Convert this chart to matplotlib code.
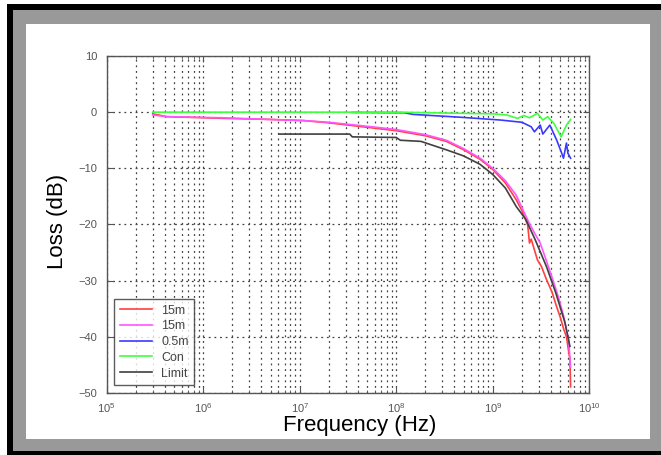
import matplotlib
matplotlib.use("Agg")
import matplotlib.pyplot as plt
from matplotlib.patches import Rectangle
from matplotlib.ticker import LogLocator, FixedLocator, NullFormatter

# series data (frequency in Hz, loss in dB)
red_f = [3e5, 4.2e5, 1.6e6, 5e6, 1.1e7, 2e7, 6.3e7, 1e8, 2e8, 3.3e8, 5e8, 7.4e8,
         1e9, 1.35e9, 1.75e9, 2.0e9, 2.3e9, 2.4e9, 2.5e9, 2.9e9, 3.2e9, 3.6e9,
         4.1e9, 4.6e9, 5.0e9, 5.4e9, 5.8e9, 6.1e9, 6.3e9, 6.4e9]
red_db = [-0.3, -0.8, -1.1, -1.3, -1.5, -1.9, -2.9, -3.3, -4.2, -5.2, -6.7, -8.4,
          -10.2, -12.6, -15.6, -17.5, -20.1, -23.3, -22.6, -26.3, -27.5, -29.8,
          -32.0, -34.7, -36.5, -38.5, -40.0, -42.5, -44.0, -48.9]

mag_f = [3e5, 4.2e5, 1.6e6, 5e6, 1.1e7, 2e7, 6.3e7, 1e8, 2e8, 3.3e8, 5e8, 7.4e8,
         1e9, 1.35e9, 1.75e9, 2.3e9, 2.7e9, 3.1e9, 3.6e9, 4.2e9, 4.8e9, 5.4e9,
         6.1e9, 6.4e9]
mag_db = [-0.5, -0.8, -1.0, -1.3, -1.5, -1.8, -2.7, -3.1, -4.0, -5.0, -6.5, -8.2,
          -10.0, -12.2, -14.8, -19.2, -21.5, -23.3, -26.5, -29.9, -33.0, -36.2,
          -40.6, -45.4]

blue_f = [3.5e7, 1.2e8, 1.5e8, 4.6e8, 1.2e9, 2.0e9, 2.5e9, 2.7e9, 3.1e9, 3.3e9,
          3.9e9, 4.6e9, 5.1e9, 5.4e9, 5.8e9, 6.0e9, 6.4e9]
blue_db = [-0.05, -0.1, -0.4, -0.9, -1.4, -1.8, -2.6, -3.5, -2.3, -3.9,
           -2.3, -5.0, -7.0, -8.2, -5.5, -7.3, -8.2]

green_f = [3e5, 1e8, 1e9, 1.4e9, 1.8e9, 2.1e9, 2.4e9, 2.9e9, 3.3e9, 3.7e9,
           4.3e9, 5.1e9, 5.8e9, 6.4e9]
green_db = [0, 0, -0.3, -0.5, -1.1, -0.6, -1.0, -0.2, -1.4, -0.8,
            -2.0, -4.4, -2.3, -1.3]

limit_f = [6.1e6, 3.3e7, 3.5e7, 1e8, 1.1e8, 1.8e8, 3.3e8, 5e8, 7.4e8, 1e9,
           1.35e9, 1.75e9, 2.2e9, 2.75e9, 3.6e9, 4.5e9, 5.6e9, 6.3e9]
limit_db = [-3.9, -3.9, -4.4, -4.5, -5.0, -5.2, -6.7, -7.8, -9.3, -11.1,
            -13.5, -16.8, -19.1, -22.7, -27.5, -32.2, -37.5, -41.7]

labels = ["15m", "15m", "0.5m", "Con", "Limit"]
colors = ["#ff4040", "#ff55ff", "#3a3aff", "#40ff40", "#404040"]
y_ticks = [10, 0, -10, -20, -30, -40, -50]

W, H = 661, 455
fig = plt.figure(figsize=(W / 100, H / 100), dpi=100)
fig.patch.set_facecolor("white")


def px_rect(x0, y0, x1, y1, color):
    # rectangle given in pixel coords (origin top-left)
    fig.add_artist(Rectangle((x0 / W, 1 - y1 / H), (x1 - x0) / W, (y1 - y0) / H,
                             transform=fig.transFigure, facecolor=color,
                             edgecolor="none", zorder=-10))


px_rect(7, 4, W + 5, H + 5, "black")
px_rect(13, 10, W + 5, 451, "#999999")
px_rect(26, 24, 650, 439, "white")

ax = fig.add_axes([106.7 / W, 1 - 393 / H, (589.3 - 106.7) / W, (393 - 56) / H])
ax.set_facecolor("white")

series = [(red_f, red_db), (mag_f, mag_db), (blue_f, blue_db),
          (green_f, green_db), (limit_f, limit_db)]
for (f, d), lab, c in zip(series, labels, colors):
    ax.plot(f, d, color=c, lw=1.2, label=lab)

ax.set_xscale("log")
ax.set_xlim(1e5, 1e10)
ax.set_ylim(-50, 10)
ax.yaxis.set_major_locator(FixedLocator(y_ticks))
ax.xaxis.set_major_locator(LogLocator(base=10, numticks=10))
ax.xaxis.set_minor_locator(LogLocator(base=10, subs=range(2, 10), numticks=20))
ax.xaxis.set_minor_formatter(NullFormatter())

grid_kw = dict(color="#444444", lw=0.9, linestyle=(0, (1.5, 3)))
ax.grid(True, which="both", axis="x", **grid_kw)
ax.grid(True, which="major", axis="y", **grid_kw)
ax.set_axisbelow(True)

ax.tick_params(which="both", direction="in", colors="#555555", labelsize=8,
               top=True, right=True)
ax.tick_params(which="major", length=4)
ax.tick_params(which="minor", length=2)
ax.tick_params(axis="y", pad=7)
ax.tick_params(axis="x", pad=6)
for lbl in ax.get_xticklabels() + ax.get_yticklabels():
    lbl.set_fontfamily("Liberation Sans")
for s in ax.spines.values():
    s.set_color("#555555")
    s.set_linewidth(1.0)

fig.text(360 / W, 1 - 426 / H, "Frequency (Hz)", ha="center", va="center",
         fontsize=16, family="Liberation Sans", color="black")
fig.text(57 / W, 1 - 221 / H, "Loss (dB)", ha="center", va="center",
         rotation=90, fontsize=16, family="Liberation Sans", color="black")

leg = ax.legend(loc="lower left", bbox_to_anchor=(0.008, 0.012),
                frameon=True, fancybox=False, handlelength=2.6,
                borderpad=0.45, labelspacing=0.3, handletextpad=0.7,
                borderaxespad=0.3,
                prop={"family": "Liberation Sans", "size": 9})
leg.get_frame().set_edgecolor("#333333")
leg.get_frame().set_linewidth(1.0)
for t in leg.get_texts():
    t.set_color("#444444")

fig.savefig("out.png", dpi=100)
